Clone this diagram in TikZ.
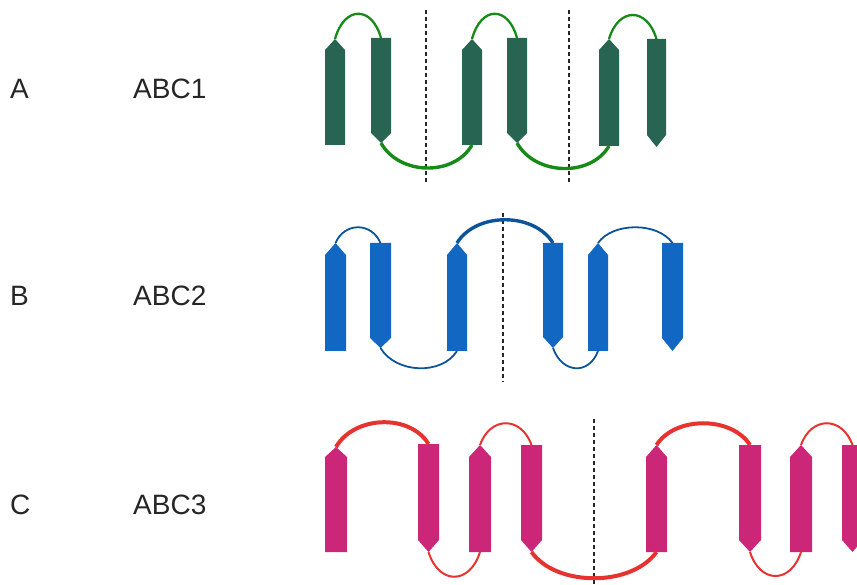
\documentclass[tikz,border=0pt]{standalone}
\usepackage{fontspec}
\usetikzlibrary{calc}
\setmainfont{Liberation Sans}
\definecolor{strA}{HTML}{276452}
\definecolor{lpA}{HTML}{178A17}
\definecolor{strB}{HTML}{1267C2}
\definecolor{lpB}{HTML}{0C549A}
\definecolor{strC}{HTML}{CC2679}
\definecolor{lpC}{HTML}{E6332F}
\newcommand\upS[7]{%
  \fill[#7] (#2,#6) -- (#2,#5) -- ({(#2+#3)/2},#4) -- (#3,#5) -- (#3,#6) -- cycle;
  \coordinate (#1t) at ({(#2+#3)/2},#4);
  \coordinate (#1b) at ({(#2+#3)/2},#6);}
\newcommand\dnS[7]{%
  \fill[#7] (#2,#4) -- (#3,#4) -- (#3,#5) -- ({(#2+#3)/2},#6) -- (#2,#5) -- cycle;
  \coordinate (#1t) at ({(#2+#3)/2},#4);
  \coordinate (#1b) at ({(#2+#3)/2},#6);}
\newcommand\arcup[4]{\draw[#1] (#2) .. controls ($(#2)!0.2!(#3)+(0,-#4)$) and ($(#2)!0.8!(#3)+(0,-#4)$) .. (#3);}
\newcommand\arcdn[4]{\draw[#1] (#2) .. controls ($(#2)!0.2!(#3)+(0,#4)$) and ($(#2)!0.8!(#3)+(0,#4)$) .. (#3);}
\tikzset{
  lbl/.style={anchor=base west, inner sep=0pt, font=\fontsize{28}{34}\selectfont, text=black!85},
  sep/.style={draw=black!85, line width=1.7pt, dash pattern=on 4pt off 3pt},
  thinA/.style={draw=lpA, line width=2.3pt},
  thickA/.style={draw=lpA, line width=3.4pt},
  thinB/.style={draw=lpB, line width=1.8pt},
  thickB/.style={draw=lpB, line width=3.4pt},
  thinC/.style={draw=lpC, line width=2pt},
  thickC/.style={draw=lpC, line width=4pt},
}
\begin{document}
\begin{tikzpicture}[x=1pt,y=-1pt]
\useasboundingbox (0,0) rectangle (857,585);
\clip (0,0) rectangle (857,585);
% labels
\node[lbl] (la) at (10,99) {A};
\node[lbl] (na) at (133,99) {ABC1};
\node[lbl] (lb) at (10,306) {B};
\node[lbl] (nb) at (133,306) {ABC2};
\node[lbl] (lc) at (10,514) {C};
\node[lbl] (nc) at (133,514) {ABC3};
% separators
\draw[sep] (426,10) -- (426,182);
\draw[sep] (569,10) -- (569,182);
\draw[sep] (503,213) -- (503,382);
\draw[sep] (594,419) -- (594,585);
% Row A
\upS{a1}{325}{345}{39}{50}{145}{strA}
\dnS{a2}{371}{391}{38}{133}{143}{strA}
\upS{a3}{462}{482}{39}{50}{145}{strA}
\dnS{a4}{507}{527}{38}{133}{143}{strA}
\upS{a5}{599}{619}{39}{50}{146}{strA}
\dnS{a6}{647}{666}{39}{135}{147}{strA}
\arcup{thinA}{a1t}{a2t}{33}
\arcdn{thickA}{a2b}{a3b}{32}
\arcup{thinA}{a3t}{a4t}{33}
\arcdn{thickA}{a4b}{a5b}{32}
\arcup{thinA}{a5t}{a6t}{32}
% Row B
\upS{b1}{325}{346}{243}{255}{351}{strB}
\dnS{b2}{370}{391}{243}{338}{348}{strB}
\upS{b3}{447}{467}{243}{255}{351}{strB}
\dnS{b4}{543}{563}{243}{337}{348}{strB}
\upS{b5}{588}{608}{243}{255}{351}{strB}
\dnS{b6}{662}{683}{243}{338}{351}{strB}
\arcup{thinB}{b1t}{b2t}{21}
\arcdn{thinB}{b2b}{b3b}{25}
\arcup{thickB}{b3t}{b4t}{31}
\arcdn{thinB}{b4b}{b5b}{25}
\arcup{thinB}{b5t}{b6t}{21}
% Row C
\upS{c1}{325}{347}{447}{457}{552}{strC}
\dnS{c2}{418}{439}{444}{540}{552}{strC}
\upS{c3}{469}{491}{445}{457}{552}{strC}
\dnS{c4}{521}{542}{445}{540}{552}{strC}
\upS{c5}{646}{667}{445}{457}{552}{strC}
\dnS{c6}{739}{761}{445}{540}{552}{strC}
\upS{c7}{790}{812}{445}{457}{552}{strC}
\dnS{c8}{842}{863}{445}{540}{552}{strC}
\arcup{thickC}{c1t}{c2t}{31}
\arcdn{thinC}{c2b}{c3b}{33}
\arcup{thinC}{c3t}{c4t}{29}
\arcdn{thickC}{c4b}{c5b}{35}
\arcup{thickC}{c5t}{c6t}{29}
\arcdn{thinC}{c6b}{c7b}{32}
\arcup{thinC}{c7t}{c8t}{29}
\end{tikzpicture}
\end{document}
